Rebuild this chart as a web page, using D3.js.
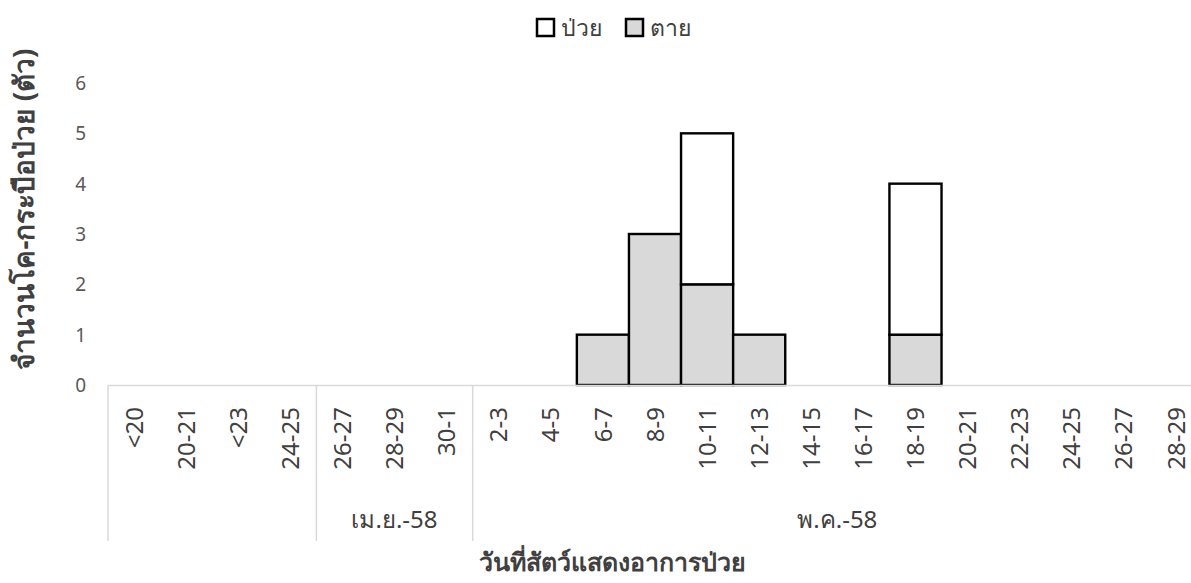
<!DOCTYPE html>
<html><head><meta charset="utf-8">
<script src="https://cdn.jsdelivr.net/npm/d3@7"></script>
<style>
body{margin:0;background:#fff;}
text{font-family:"Segoe UI","Noto Sans","DejaVu Sans",sans-serif;}
</style></head>
<body><svg id="c" width="1191" height="583"></svg>
<script>
const categories = ["<20","20-21","<23","24-25","26-27","28-29","30-1","2-3","4-5","6-7","8-9","10-11","12-13","14-15","16-17","18-19","20-21","22-23","24-25","26-27","28-29"];
const dead = [0,0,0,0,0,0,0,0,0,1,3,2,1,0,0,1,0,0,0,0,0];
const sick = [0,0,0,0,0,0,0,0,0,0,0,3,0,0,0,3,0,0,0,0,0];
const groups = [{label:"",n:4},{label:"เม.ย.-58",n:3},{label:"พ.ค.-58",n:14}];
const yTicks = [0,1,2,3,4,5,6];
const seriesNames = ["ป่วย","ตาย"];

const svg = d3.select("#c");
const x0 = 108, x1 = 1202, yBase = 385, yTop = 83;
const idx = categories.map((d,i)=>i);
const x = d3.scaleBand().domain(idx).range([x0,x1]).padding(0);
const y = d3.scaleLinear().domain([0,6]).range([yBase,yTop]);

// y tick labels
svg.append("g").selectAll("text").data(yTicks).join("text")
  .attr("x",86).attr("y",d=>y(d)).attr("dy","0.36em").attr("text-anchor","end")
  .attr("font-size",19).attr("fill","#595959").text(d=>d);

// bars
const stack = d3.stack().keys(["dead","sick"])(idx.map(i=>({dead:dead[i],sick:sick[i],i})));
const fills = {dead:"#d9d9d9",sick:"#ffffff"};
stack.forEach(layer=>{
  svg.append("g").selectAll("rect").data(layer.filter(d=>d[1]-d[0]>0)).join("rect")
    .attr("x",d=>x(d.data.i)).attr("width",x.bandwidth())
    .attr("y",d=>y(d[1])).attr("height",d=>y(d[0])-y(d[1]))
    .attr("fill",fills[layer.key]).attr("stroke","#000").attr("stroke-width",2.4);
});

// axis line
svg.append("line").attr("x1",x0).attr("x2",x1).attr("y1",yBase+0.5).attr("y2",yBase+0.5)
  .attr("stroke","#d9d9d9").attr("stroke-width",1.5);

// category labels
svg.append("g").selectAll("text").data(idx).join("text")
  .attr("transform",i=>`translate(${x(i)+x.bandwidth()/2},407) rotate(-90)`)
  .attr("dy","0.36em").attr("text-anchor","end")
  .attr("font-size",24).attr("fill","#404040").text(i=>categories[i]);

// group separators & labels
let start = 0;
const seps = [0];
groups.forEach(g=>{
  const a = x(start), b = start+g.n < categories.length ? x(start+g.n) : x1;
  svg.append("text").attr("x",(a+b)/2).attr("y",528).attr("text-anchor","middle")
    .attr("font-size",24).attr("fill","#404040").text(g.label);
  start += g.n; seps.push(start);
});
svg.append("g").selectAll("line").data(seps.slice(0,-1)).join("line")
  .attr("x1",i=>x(i)).attr("x2",i=>x(i)).attr("y1",yBase).attr("y2",541)
  .attr("stroke","#d9d9d9").attr("stroke-width",1.5);

// axis titles
svg.append("text").attr("x",612).attr("y",571).attr("text-anchor","middle")
  .attr("font-size",25).attr("font-weight","bold").attr("fill","#404040").text("วันที่สัตว์แสดงอาการป่วย");
svg.append("text").attr("transform","translate(34,209) rotate(-90)").attr("text-anchor","middle")
  .attr("font-size",28).attr("font-weight","bold").attr("fill","#404040").text("จำนวนโค-กระบือป่วย (ตัว)");

// legend
const leg = [{name:seriesNames[0],fill:"#fff",x:537},{name:seriesNames[1],fill:"#d9d9d9",x:626}];
leg.forEach(l=>{
  svg.append("rect").attr("x",l.x).attr("y",19).attr("width",17).attr("height",17)
    .attr("fill",l.fill).attr("stroke","#000").attr("stroke-width",2.5);
  svg.append("text").attr("x",l.x+24).attr("y",28).attr("dy","0.36em")
    .attr("font-size",23).attr("fill","#404040").text(l.name);
});
</script></body></html>
